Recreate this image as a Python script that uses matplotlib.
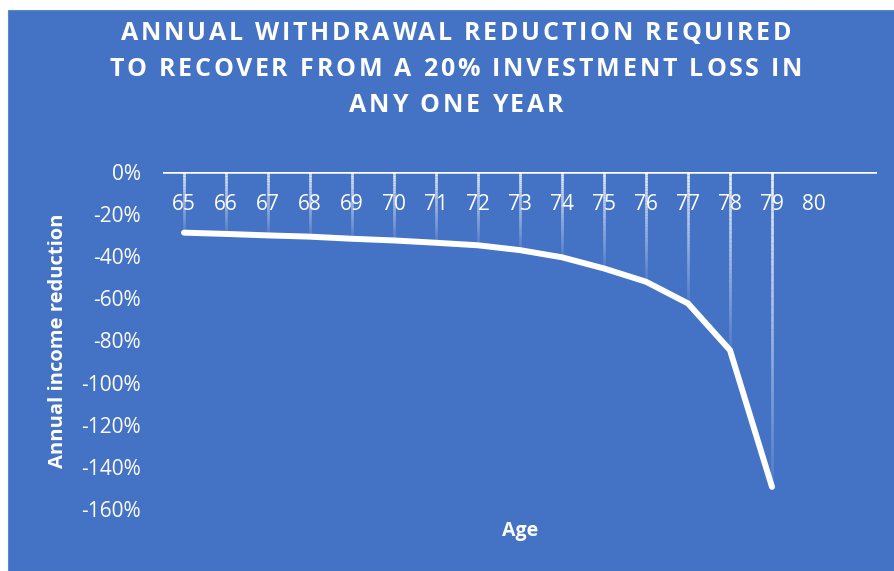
import numpy as np
import matplotlib
matplotlib.use("Agg")
import matplotlib.pyplot as plt
from matplotlib.collections import LineCollection
from matplotlib.patches import Rectangle
from matplotlib.ticker import FuncFormatter
from matplotlib.font_manager import FontProperties

# Data
ages = [65, 66, 67, 68, 69, 70, 71, 72, 73, 74, 75, 76, 77, 78, 79]
reduction = [-28.8, -29.4, -30.1, -30.7, -31.7, -32.5, -33.6, -34.8,
             -37.1, -40.5, -45.8, -52.1, -62.4, -84.6, -149.5]
age_ticks = [65, 66, 67, 68, 69, 70, 71, 72, 73, 74, 75, 76, 77, 78, 79, 80, 81]
age_labels = ['65', '66', '67', '68', '69', '70', '71', '72', '73', '74',
              '75', '76', '77', '78', '79', '80', '']
y_ticks = [0, -20, -40, -60, -80, -100, -120, -140, -160]

BLUE = '#4472C4'
plt.rcParams['font.family'] = ['Open Sans', 'DejaVu Sans']

fig = plt.figure(figsize=(8.94, 5.71), dpi=100)
fig.patch.set_facecolor('white')
fig.patches.append(Rectangle((8 / 894, 0), 1 - 8 / 894, 1 - 10 / 571,
                             transform=fig.transFigure, facecolor=BLUE,
                             edgecolor='#5b86d0', linewidth=0.8, zorder=-10))

ax = fig.add_axes([163 / 894, 1 - 509 / 571, 714 / 894, 337 / 571])
ax.set_facecolor('none')
ax.set_xlim(age_ticks[0] - 0.5, age_ticks[-1] + 0.5)
ax.set_ylim(-160, 0)

# drop lines with a white-to-transparent fade
n_seg = 40
for a, v in zip(ages, reduction):
    ys = np.linspace(0, v, n_seg + 1)
    segs = [[(a, ys[i]), (a, ys[i + 1])] for i in range(n_seg)]
    alphas = np.linspace(0.9, 0.08, n_seg)
    cols = [(1, 1, 1, al) for al in alphas]
    ax.add_collection(LineCollection(segs, colors=cols, linewidths=1.9, zorder=2))

ax.plot(ages, reduction, color='white', linewidth=4.3,
        solid_capstyle='round', solid_joinstyle='round', zorder=3)

ax.axhline(0, color='white', linewidth=1.8, zorder=4)

for s in ax.spines.values():
    s.set_visible(False)

ax.set_xticks(age_ticks)
ax.set_xticklabels(age_labels)
ax.tick_params(axis='x', top=False, bottom=False, labeltop=True, labelbottom=False,
               length=0, pad=-31, labelsize=15, labelcolor='white')
ax.set_yticks(y_ticks)
ax.yaxis.set_major_formatter(FuncFormatter(lambda v, p: f'{v:.0f}%'))
ax.tick_params(axis='y', length=0, pad=16, labelsize=15, labelcolor='white')

ax.set_ylabel('Annual income reduction', color='white', fontsize=14.5,
              fontweight='bold', va='center')
ax.yaxis.set_label_coords(-0.147, 0.5)
ax.set_xlabel('Age', color='white', fontsize=14, fontweight='bold', va='center')
ax.xaxis.set_label_coords(0.5, -0.065)

# Title with letter spacing, laid out character by character
title_lines = ['ANNUAL WITHDRAWAL REDUCTION REQUIRED',
               'TO RECOVER FROM A 20% INVESTMENT LOSS IN',
               'ANY ONE YEAR']
renderer = fig.canvas.get_renderer()
tprop = FontProperties(family=['Open Sans', 'DejaVu Sans'], weight='bold', size=18)
spacing = 2.8  # px between letters


def prefix_width(s):
    if not s:
        return 0.0
    # trailing char guard so trailing spaces are counted
    w, _, _ = renderer.get_text_width_height_descent(s + '|', tprop, ismath=False)
    w0, _, _ = renderer.get_text_width_height_descent('|', tprop, ismath=False)
    return w - w0


cx = 456
for i, line in enumerate(title_lines):
    total = prefix_width(line) + spacing * (len(line) - 1)
    x0 = cx - total / 2
    y = 571 - (34 + 36 * i)
    for k, ch in enumerate(line):
        if ch == ' ':
            continue
        x = x0 + prefix_width(line[:k]) + spacing * k
        fig.text(x / 894, y / 571, ch, ha='left', va='center',
                 color='white', fontproperties=tprop)

fig.savefig('out.png', dpi=100, facecolor=fig.get_facecolor())
